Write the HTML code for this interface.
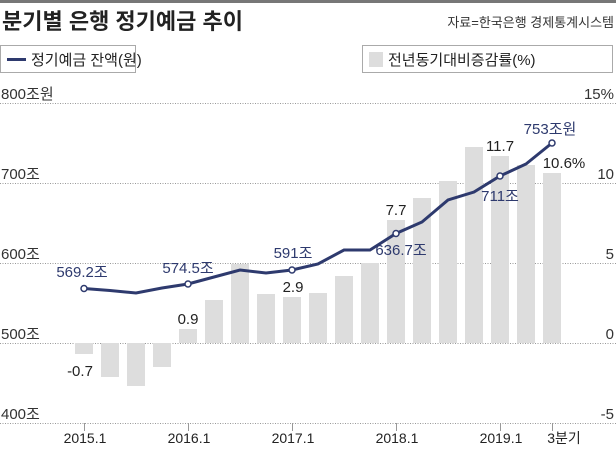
<!DOCTYPE html>
<html><head><meta charset="utf-8"><style>
body{margin:0;background:#fff;width:616px;height:446px;overflow:hidden}
svg text{font-family:"Liberation Sans","Noto Sans CJK KR",sans-serif}
</style></head><body>
<svg width="616" height="446" xmlns="http://www.w3.org/2000/svg">
<rect x="0" y="0" width="616" height="3" fill="#777"/>
<text x="2" y="29" font-size="22" font-weight="bold" fill="#222">분기별 은행 정기예금 추이</text>
<text x="614" y="27" font-size="13" fill="#333" text-anchor="end">자료=한국은행 경제통계시스템</text>
<rect x="0.5" y="45.5" width="135" height="27" fill="#fff" stroke="#aaa"/>
<rect x="7" y="58" width="19" height="3" fill="#2e3a6e"/>
<text x="31" y="65" font-size="15" fill="#222">정기예금 잔액(원)</text>
<rect x="362.5" y="45.5" width="250" height="27" fill="#fff" stroke="#aaa"/>
<rect x="369" y="52" width="14" height="15" fill="#ddd"/>
<text x="388" y="65" font-size="15" fill="#222">전년동기대비증감률(%)</text>
<g stroke="#999" stroke-dasharray="1,1.5" stroke-width="1">
<line x1="0" y1="103.5" x2="616" y2="103.5"/>
<line x1="0" y1="183.5" x2="616" y2="183.5"/>
<line x1="0" y1="263.5" x2="616" y2="263.5"/>
<line x1="0" y1="343.5" x2="616" y2="343.5"/>
<line x1="0" y1="423.5" x2="616" y2="423.5"/>
</g>
<g font-size="15" fill="#333">
<text x="1" y="99">800조원</text>
<text x="1" y="179">700조</text>
<text x="1" y="259">600조</text>
<text x="1" y="339">500조</text>
<text x="1" y="419">400조</text>
</g>
<g font-size="15" fill="#333" text-anchor="end">
<text x="614" y="99">15%</text>
<text x="614" y="179">10</text>
<text x="614" y="259">5</text>
<text x="614" y="339">0</text>
<text x="614" y="419">-5</text>
</g>
<g fill="#ddd">
<rect x="75" y="343" width="18" height="11"/>
<rect x="101" y="343" width="18" height="34"/>
<rect x="127" y="343" width="18" height="43"/>
<rect x="153" y="343" width="18" height="24"/>
<rect x="179" y="329" width="18" height="14"/>
<rect x="205" y="300" width="18" height="43"/>
<rect x="231" y="264" width="18" height="79"/>
<rect x="257" y="294" width="18" height="49"/>
<rect x="283" y="297" width="18" height="46"/>
<rect x="309" y="293" width="18" height="50"/>
<rect x="335" y="276" width="18" height="67"/>
<rect x="361" y="263" width="18" height="80"/>
<rect x="387" y="220" width="18" height="123"/>
<rect x="413" y="198" width="18" height="145"/>
<rect x="439" y="181" width="18" height="162"/>
<rect x="465" y="147" width="18" height="196"/>
<rect x="491" y="156" width="18" height="187"/>
<rect x="517" y="165" width="18" height="178"/>
<rect x="543" y="173" width="18" height="170"/>
</g>
<g stroke="#999" stroke-width="1">
<line x1="84.5" y1="423" x2="84.5" y2="431"/><line x1="188.5" y1="423" x2="188.5" y2="431"/>
<line x1="292.5" y1="423" x2="292.5" y2="431"/><line x1="396.5" y1="423" x2="396.5" y2="431"/>
<line x1="500.5" y1="423" x2="500.5" y2="431"/><line x1="552.5" y1="423" x2="552.5" y2="431"/>
</g>
<g font-size="14" fill="#222" text-anchor="middle">
<text x="85" y="443">2015.1</text><text x="189" y="443">2016.1</text><text x="293" y="443">2017.1</text>
<text x="397" y="443">2018.1</text><text x="501" y="443">2019.1</text><text x="564" y="443">3분기</text>
</g>
<g font-size="15" fill="#222" text-anchor="middle">
<text x="80" y="376">-0.7</text>
<text x="188" y="324">0.9</text>
<text x="293" y="292">2.9</text>
<text x="396" y="215">7.7</text>
<text x="500" y="151">11.7</text>
<text x="564" y="168">10.6%</text>
</g>
<polyline fill="none" stroke="#2e3a6e" stroke-width="3" points="84,288.5 110,290.5 136,293 162,288 188,284 214,277 240,270 266,273 292,270 318,264 344,250 370,250 396,233.5 422,222 448,200 474,192 500,176 526,164 552,143"/>
<g fill="#fff" stroke="#2e3a6e" stroke-width="1.5">
<circle cx="84" cy="288.5" r="3"/><circle cx="188" cy="284" r="3"/><circle cx="292" cy="270" r="3"/>
<circle cx="396" cy="233.5" r="3"/><circle cx="500" cy="176" r="3"/><circle cx="552" cy="143" r="3"/>
</g>
<g font-size="15" fill="#2e3a6e" text-anchor="middle">
<text x="82" y="277">569.2조</text>
<text x="188" y="273">574.5조</text>
<text x="293" y="258">591조</text>
<text x="401" y="255">636.7조</text>
<text x="500" y="201">711조</text>
<text x="550" y="134">753조원</text>
</g>
</svg>
</body></html>
